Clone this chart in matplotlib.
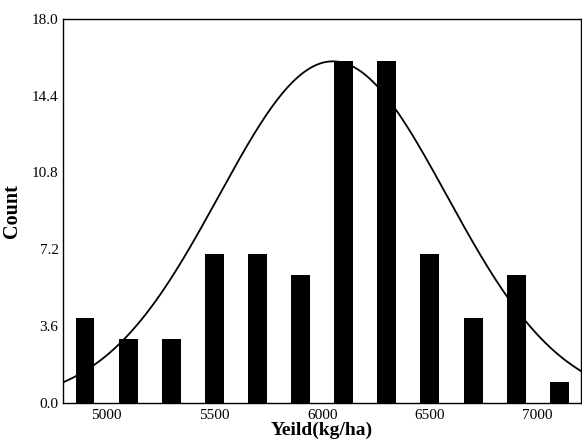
import numpy as np
import matplotlib
matplotlib.use('Agg')
import matplotlib.pyplot as plt

# histogram bins (centres) and counts
bin_centers = [4900, 5100, 5300, 5500, 5700, 5900, 6100, 6300, 6500, 6700, 6900, 7100]
counts = [4, 3, 3, 7, 7, 6, 16, 16, 7, 4, 6, 1]

# fitted normal curve parameters
curve_mean = 6050
curve_sd = 529
curve_peak = 16.0

x_ticks = [5000, 5500, 6000, 6500, 7000]
y_ticks = [0.0, 3.6, 7.2, 10.8, 14.4, 18.0]

plt.rcParams['font.family'] = ['Liberation Serif', 'DejaVu Serif']

fig = plt.figure(figsize=(5.82, 4.43), dpi=100)
ax = fig.add_axes([0.109, 0.090, 0.889, 0.868])

ax.bar(bin_centers, counts, width=88, color='black', edgecolor='black', linewidth=0)

xs = np.linspace(4800, 7200, 400)
ys = curve_peak * np.exp(-(xs - curve_mean) ** 2 / (2 * curve_sd ** 2))
ax.plot(xs, ys, color='black', linewidth=1.3)

ax.set_xlim(4800, 7200)
ax.set_ylim(0, 18)
ax.set_xticks(x_ticks)
ax.set_yticks(y_ticks)
ax.set_yticklabels(['%.1f' % v for v in y_ticks])
ax.tick_params(length=0, labelsize=11)
ax.tick_params(axis='x', pad=4)
ax.tick_params(axis='y', pad=3.5)
for s in ax.spines.values():
    s.set_linewidth(1.0)

ax.set_xlabel('Yeild(kg/ha)', fontsize=14, fontweight='bold', labelpad=0)
ax.set_ylabel('Count', fontsize=14.5, fontweight='bold', labelpad=7)

fig.savefig('out.png', dpi=100)
